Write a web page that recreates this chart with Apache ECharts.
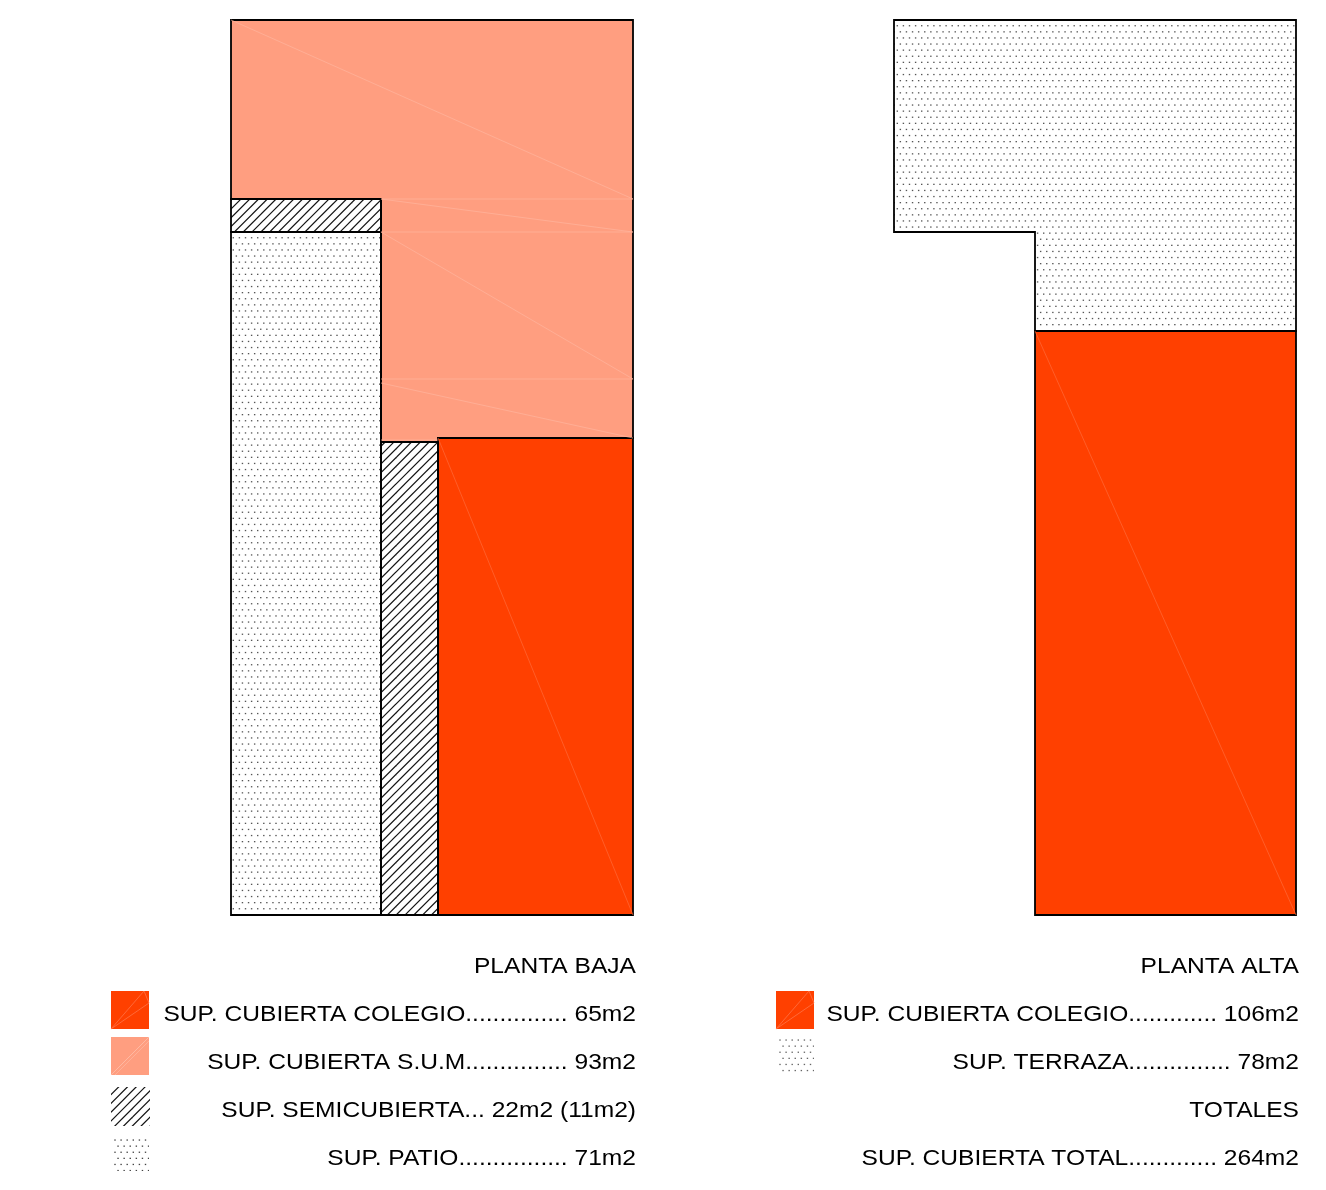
<!DOCTYPE html>
<html><head><meta charset="utf-8">
<style>html,body{margin:0;padding:0;background:#fff}#c{width:1326px;height:1190px}</style>
<script src="https://cdn.jsdelivr.net/npm/echarts@6/dist/echarts.min.js"></script>
</head><body><div id="c"></div>
<script>
// Plan outlines
const salmonOutline = [[231,20],[633,20],[633,438],[438,438],[438,442],[381,442],[381,199],[231,199]];
const hatchTop = [[231,199],[381,199],[381,232],[231,232]];
const patioOutline = [[231,232],[381,232],[381,915],[231,915]];
const hatchSide = [[381,442],[438,442],[438,915],[381,915]];
const colegioBaja = [[438,438],[633,438],[633,915],[438,915]];
const terrazaOutline = [[894,20],[1296,20],[1296,331],[1035,331],[1035,232],[894,232]];
const colegioAlta = [[1035,331],[1296,331],[1296,915],[1035,915]];
const salmonSeams = [[[231,20],[633,199]],[[381,199],[633,199]],[[381,199],[633,232]],[[381,232],[633,232]],[[381,232],[633,379]],[[381,379],[633,379]],[[381,383],[633,438]],[[381,440],[438,440]]];
const colegioSeams = [[[438,438],[633,915]],[[1035,331],[1296,915]]];
const titlesLeft = ['PLANTA BAJA'];
const labelsLeft = ['SUP. CUBIERTA COLEGIO............... 65m2','SUP. CUBIERTA S.U.M............... 93m2','SUP. SEMICUBIERTA... 22m2 (11m2)','SUP. PATIO................ 71m2'];
const labelsRight = ['PLANTA ALTA','SUP. CUBIERTA COLEGIO............. 106m2','SUP. TERRAZA............... 78m2','TOTALES','SUP. CUBIERTA TOTAL............. 264m2'];

const ORANGE='#ff4000', SALMON='#ff9e80', INK='#000';
function tile(w,h,draw){const c=document.createElement('canvas');c.width=w;c.height=h;draw(c.getContext('2d'));return {image:c,repeat:'repeat'};}
function dots(ox,oy,col){return tile(61,61,g=>{g.fillStyle=col;const s=6.1;
  for(let r=-1;r<11;r++)for(let k=-1;k<11;k++){
    const x=((ox%s)+k*s+(r%2?-3.05:0)), y=((oy%61)%s+r*s);
    g.fillRect(x-.7,y-.6,1.4,1.3);} });}
function hatch(){return tile(44,44,g=>{g.strokeStyle='#111';g.lineWidth=1.2;
  for(let o=-44;o<=88;o+=8.8){g.beginPath();g.moveTo(o-1,45);g.lineTo(o+45,-1);g.stroke();}});}
const dotsL=dots(233.3,237.7,'#555'), dotsR=dots(897.3,25.7,'#555'), hatchF=hatch();

const plan=[
 {pts:salmonOutline,fill:SALMON,stroke:INK},
 {pts:colegioBaja,fill:ORANGE,stroke:INK},
 {pts:patioOutline,fill:dotsL,stroke:INK},
 {pts:hatchSide,fill:hatchF,stroke:INK},
 {pts:hatchTop,fill:hatchF,stroke:INK},
 {pts:terrazaOutline,fill:dotsR,stroke:INK},
 {pts:colegioAlta,fill:ORANGE,stroke:INK},
 // legend swatches
 {pts:[[111,991],[149,991],[149,1029],[111,1029]],fill:ORANGE},
 {pts:[[111,1037],[149,1037],[149,1075],[111,1075]],fill:SALMON},
 {pts:[[111,1087],[150,1087],[150,1126],[111,1126]],fill:hatchF},
 {pts:[[113,1138],[149,1138],[149,1171],[113,1171]],fill:dots(115,1140,'#444')},
 {pts:[[776,991],[814,991],[814,1029],[776,1029]],fill:ORANGE},
 {pts:[[778,1038],[814,1038],[814,1073],[778,1073]],fill:dots(780,1040,'#666')}
];
const seams=[
 ...salmonSeams.map(l=>({l,c:'#ffb59d'})),
 ...colegioSeams.map(l=>({l,c:'#ff6a3a'})),
 {l:[[111,1029],[144,991]],c:'#ff7a50'},{l:[[111,1029],[149,1003]],c:'#ff7a50'},{l:[[144,991],[149,1003]],c:'#ff7a50'},
 {l:[[776,1029],[809,991]],c:'#ff7a50'},{l:[[776,1029],[814,1003]],c:'#ff7a50'},{l:[[809,991],[814,1003]],c:'#ff7a50'},
 {l:[[111,1075],[149,1037]],c:'#ffc4b2'},{l:[[115,1075],[149,1041]],c:'#ffb8a2'}
];
const texts=[
 ...titlesLeft.map(t=>({t,x:636,y:965})),
 ...labelsLeft.map((t,i)=>({t,x:636,y:1013+48*i})),
 ...labelsRight.map((t,i)=>({t,x:1299,y:965+48*i}))
];

const chart=echarts.init(document.getElementById('c'),null,{renderer:'canvas',width:1326,height:1190});
chart.setOption({
 animation:false,backgroundColor:'#fff',
 grid:{left:0,right:0,top:0,bottom:0},
 xAxis:{type:'value',min:0,max:1326,show:false},
 yAxis:{type:'value',min:0,max:1190,inverse:true,show:false},
 series:[
 {type:'custom',coordinateSystem:'cartesian2d',silent:true,z:1,data:plan.map((p,i)=>[i]),
  renderItem(_,api){const p=plan[api.value(0)];
   return {type:'polygon',shape:{points:p.pts.map(q=>api.coord(q))},
     style:{fill:p.fill,stroke:p.stroke||null,lineWidth:p.stroke?1.8:0}};}},
 {type:'custom',coordinateSystem:'cartesian2d',silent:true,z:2,data:seams.map((p,i)=>[i]),
  renderItem(_,api){const s=seams[api.value(0)];const a=api.coord(s.l[0]),b=api.coord(s.l[1]);
   return {type:'line',shape:{x1:a[0],y1:a[1],x2:b[0],y2:b[1]},style:{stroke:s.c,lineWidth:.7,fill:null}};}},
 {type:'custom',coordinateSystem:'cartesian2d',silent:true,z:3,data:texts.map((p,i)=>[i]),
  renderItem(_,api){const s=texts[api.value(0)];const a=api.coord([s.x,s.y]);
   return {type:'text',x:a[0],y:a[1]+2,scaleX:1.143,style:{text:s.t,textAlign:'right',textVerticalAlign:'middle',fill:'#000',font:'21.5px "Liberation Sans"'}};}}
 ]
});
</script></body></html>
